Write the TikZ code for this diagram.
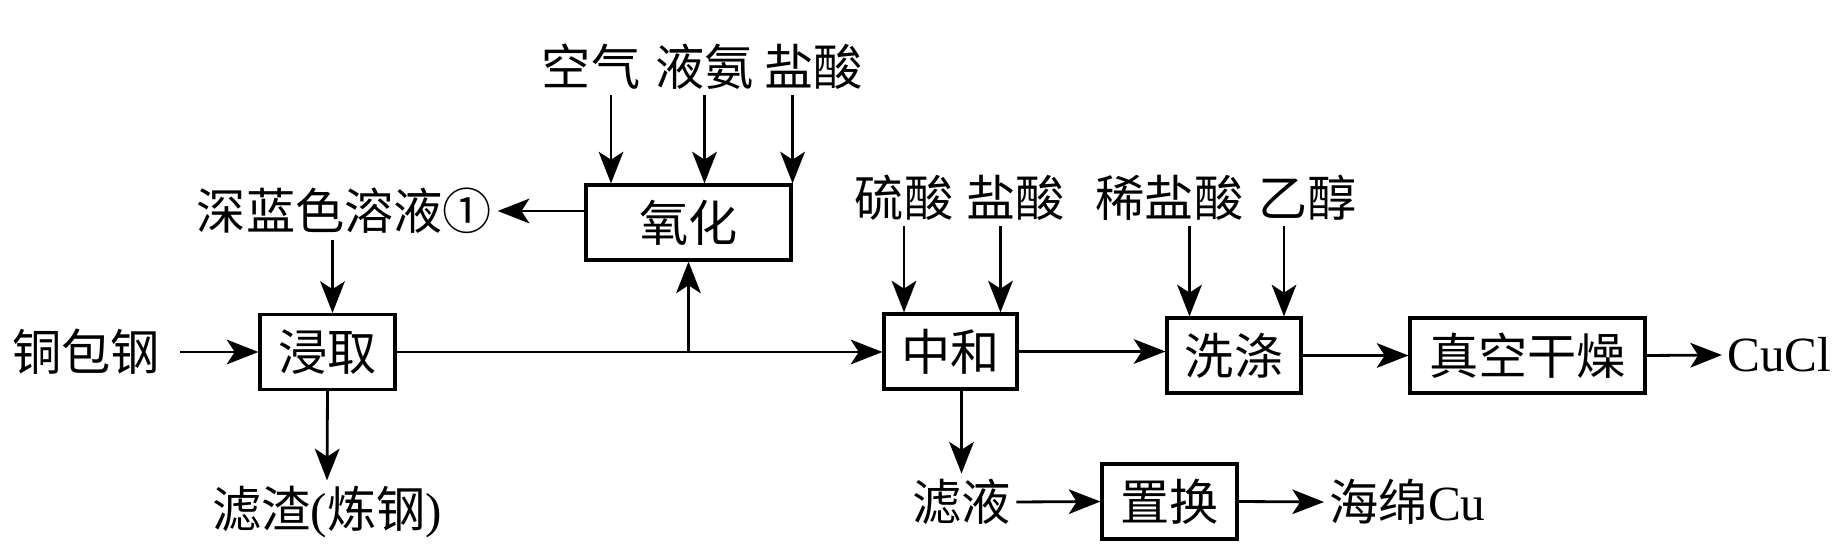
\documentclass[tikz,border=0pt]{standalone}
\usepackage{fontspec}
\setmainfont{Liberation Serif}
\newfontfamily\cjk{Noto Sans CJK SC}
\usetikzlibrary{arrows.meta}
\tikzset{
  box/.style={draw, line width=1.8pt, minimum height=1.5cm, inner sep=0pt, font=\cjk\fontsize{28}{28}\selectfont},
  txt/.style={inner sep=3pt, font=\cjk\fontsize{28}{28}\selectfont},
  arr/.style={line width=1.6pt, -{Stealth[length=18pt,width=14pt,inset=4.5pt]}}
}
\begin{document}
\begin{tikzpicture}[x=0.02cm, y=-0.02cm]
  \useasboundingbox (0,0) rectangle (1846,560);
  \node[box, minimum width=2.7cm] (jq) at (327.5,352) {浸取};
  \node[box, minimum width=4.1cm] (yh) at (688.5,222.5) {氧化};
  \node[box, minimum width=2.66cm] (zh) at (950.5,351.5) {中和};
  \node[box, minimum width=2.68cm] (xd) at (1234,355.5) {洗涤};
  \node[box, minimum width=4.7cm] (gz) at (1527.5,355.5) {真空干燥};
  \node[box, minimum width=2.7cm] (zhh) at (1169.5,501.5) {置换};
  \node[txt] (kq) at (591,67) {空气};
  \node[txt] (ya) at (704.5,67) {液氨};
  \node[txt] (ys1) at (813.5,67) {盐酸};
  \node[txt] (sl) at (344.5,211) {深蓝色溶液①};
  \node[txt] (tbg) at (86,352) {铜包钢};
  \node[txt] (lz) at (327,512) {滤渣{\rmfamily(}炼钢{\rmfamily)}};
  \node[txt] (ls) at (904,198) {硫酸};
  \node[txt] (ys2) at (1015.5,198) {盐酸};
  \node[txt] (xys) at (1169.5,198) {稀盐酸};
  \node[txt] (yc) at (1307.5,198) {乙醇};
  \node[txt] (ly) at (961.5,502) {滤液};
  \node[txt] (hm) at (1407.5,502) {海绵\rmfamily Cu};
  \node[txt, font=\fontsize{28}{28}\selectfont] (cucl) at (1779.5,355) {CuCl};
  \draw[arr] ([xshift=0.4cm]kq.south) -- ([xshift=0.4cm]kq.south |- yh.north);
  \draw[arr] (ya.south) -- (ya.south |- yh.north);
  \draw[arr] (yh.north east |- ys1.south) -- (yh.north east);
  \draw[arr] (yh.west |- sl.east) -- (sl.east);
  \draw[arr] ([xshift=0.1cm]jq.north |- sl.south) -- ([xshift=0.1cm]jq.north);
  \draw[arr] ([xshift=0.3cm]tbg.east) -- (jq.west);
  \draw[arr] (jq.east) -- (jq.east -| zh.west);
  \draw[arr] (yh.south |- jq.east) -- (yh.south);
  \draw[arr] (jq.south) -- (lz.north);
  \draw[arr] (ls.south) -- (ls.south |- zh.north);
  \draw[arr] ([xshift=-0.3cm]ys2.south) -- ([xshift=-0.3cm]ys2.south |- zh.north);
  \draw[arr] ([xshift=0.4cm]xys.south) -- ([xshift=0.4cm]xys.south |- xd.north);
  \draw[arr] ([xshift=-0.47cm]yc.south) -- ([xshift=-0.47cm]yc.south |- xd.north);
  \draw[arr] (zh.east) -- (zh.east -| xd.west);
  \draw[arr] (xd.east) -- (gz.west);
  \draw[arr] (gz.east) -- (cucl.west);
  \draw[arr] (ly.north |- zh.south) -- (ly.north);
  \draw[arr] (ly.east) -- (zhh.west);
  \draw[arr] (zhh.east) -- (hm.west);
\end{tikzpicture}
\end{document}
